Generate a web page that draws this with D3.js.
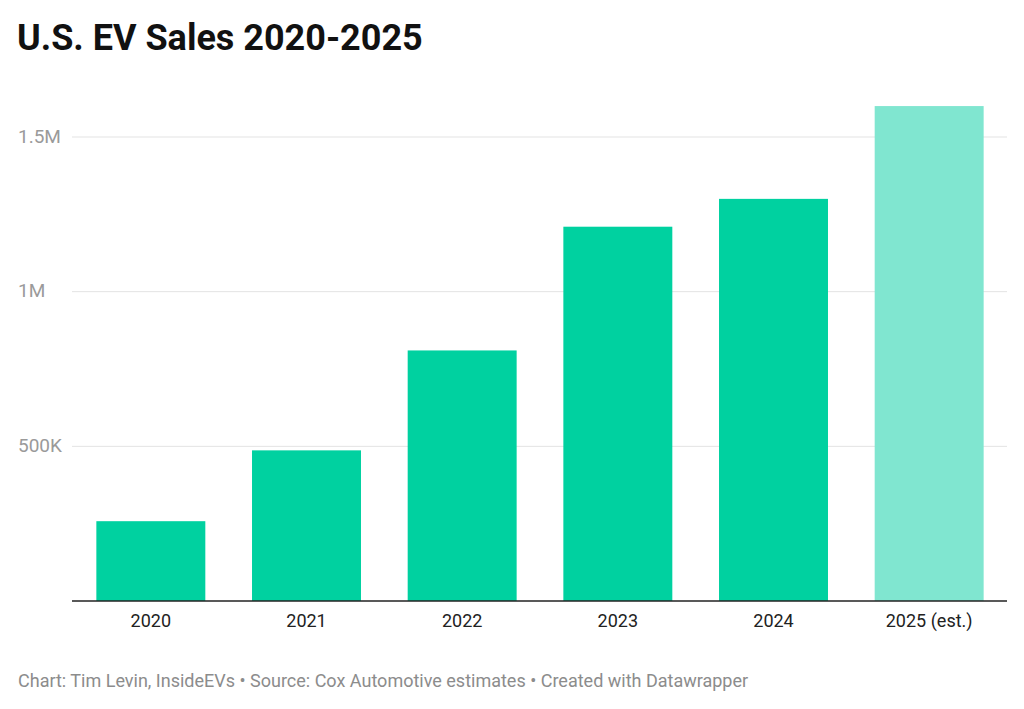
<!DOCTYPE html>
<html>
<head>
<script src="https://d3js.org/d3.v7.min.js"></script>
<style>
  body{ margin:0; font-family: Roboto, Arial, sans-serif; background:#fff; }
</style>
</head>
<body>
<svg id="chart" width="1024" height="709"></svg>
<script>
  const years = ['2020', '2021', '2022', '2023', '2024', '2025 (est.)']
  const sales = [258000, 487000, 810000, 1210000, 1300000, 1600000]
  const estimated = [false, false, false, false, false, true]
  const tickValues = [500000, 1000000, 1500000]
  const tickLabels = ['500K', '1M', '1.5M']

  const svg = d3.select('#chart')
  const x = d3.scaleBand().domain(years).range([73, 1007]).paddingInner(0.3).paddingOuter(0.15)
  const y = d3.scaleLinear().domain([0, 1500000]).range([601, 137])

  svg.append('text').attr('x', 17).attr('y', 50)
    .attr('font-size', 36).attr('font-weight', 700).attr('fill', '#111')
    .text('U.S. EV Sales 2020-2025')

  // gridlines + labels
  const g = svg.append('g')
  tickValues.forEach(function(v, i){
    g.append('line').attr('x1', 72).attr('x2', 1007).attr('y1', y(v)).attr('y2', y(v))
      .attr('stroke', '#e3e3e3')
    g.append('text').attr('x', 18).attr('y', y(v) - 1).attr('dy', '0.35em')
      .attr('font-size', 19).attr('fill', '#9a9a9a').text(tickLabels[i])
  })

  svg.selectAll('rect.bar').data(sales).join('rect').attr('class', 'bar')
    .attr('x', (d, i) => x(years[i]))
    .attr('width', x.bandwidth())
    .attr('y', d => y(d))
    .attr('height', d => y(0) - y(d))
    .attr('fill', (d, i) => estimated[i] ? '#80e6d0' : '#00d1a0')

  svg.append('line').attr('x1', 72).attr('x2', 1007).attr('y1', 601).attr('y2', 601)
    .attr('stroke', '#222').attr('stroke-width', 1.3)

  svg.selectAll('text.xl').data(years).join('text').attr('class', 'xl')
    .attr('x', d => x(d) + x.bandwidth() / 2).attr('y', 627)
    .attr('text-anchor', 'middle').attr('font-size', 18).attr('fill', '#222')
    .text(d => d)

  svg.append('text').attr('x', 18).attr('y', 687)
    .attr('font-size', 18).attr('fill', '#8c8c8c')
    .text('Chart: Tim Levin, InsideEVs \u2022 Source: Cox Automotive estimates \u2022 Created with Datawrapper')
</script>
</body>
</html>
